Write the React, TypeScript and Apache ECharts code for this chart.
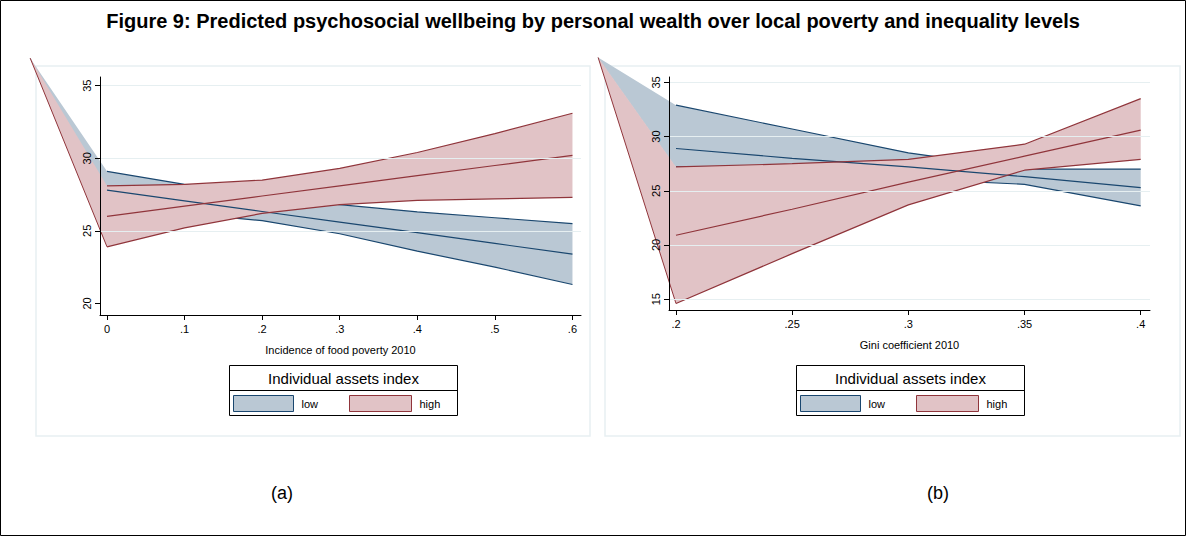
import React, { useEffect, useRef } from 'react';
import * as echarts from 'echarts';

// panel (a): incidence of food poverty
const povertyX = [0, 0.1, 0.2, 0.3, 0.4, 0.5, 0.6];
const povLowMean = [27.8, 27.07, 26.33, 25.6, 24.87, 24.13, 23.4];
const povLowUpper = [29.1, 28.2, 27.4, 26.8, 26.3, 25.9, 25.5];
const povLowLower = [26.6, 26.2, 25.7, 24.8, 23.6, 22.5, 21.3];
const povHighMean = [26.0, 26.7, 27.4, 28.1, 28.8, 29.5, 30.2];
const povHighUpper = [28.1, 28.2, 28.5, 29.3, 30.4, 31.7, 33.1];
const povHighLower = [23.9, 25.2, 26.2, 26.8, 27.1, 27.2, 27.3];
const povCorner: [number, number] = [-0.099, 36.9];

// panel (b): Gini coefficient
const giniX = [0.2, 0.25, 0.3, 0.35, 0.4];
const giniLowMean = [28.9, 28.0, 27.2, 26.3, 25.3];
const giniLowUpper = [32.9, 30.7, 28.5, 27.0, 27.0];
const giniLowLower = [27.2, 27.0, 26.1, 25.6, 23.6];
const giniHighMean = [20.9, 23.3, 25.8, 28.2, 30.6];
const giniHighUpper = [27.2, 27.5, 27.9, 29.3, 33.5];
const giniHighLower = [14.6, 19.2, 23.7, 26.9, 27.9];
const giniCorner: [number, number] = [0.1665, 37.3];

const povTicks = [0, 0.1, 0.2, 0.3, 0.4, 0.5, 0.6];
const povYTicks = [20, 25, 30, 35];
const giniTicks = [0.2, 0.25, 0.3, 0.35, 0.4];
const giniYTicks = [15, 20, 25, 30, 35];

const BLUE = '#1a476f';
const BLUE_FILL = '#bac8d4';
const RED = '#90353b';
const RED_FILL = '#e1c3c6';
const FONT = "'Liberation Sans', Arial, sans-serif";

const fmtX = (v: number) => (v === 0 ? '0' : String(v).replace(/^0/, ''));

function band(idx: number, xs: number[], up: number[], lo: number[], corner: [number, number], fill: string, stroke: string, z: number) {
  return {
    type: 'custom',
    xAxisIndex: idx,
    yAxisIndex: idx,
    clip: false,
    silent: true,
    z,
    data: [0],
    renderItem: (_p: any, api: any) => {
      const c = api.coord(corner);
      const upper = xs.map((x, i) => api.coord([x, up[i]]));
      const lower = xs.map((x, i) => api.coord([x, lo[i]])).reverse();
      return {
        type: 'group',
        children: [
          { type: 'polygon', shape: { points: [c, ...upper, ...lower] }, style: { fill } },
          { type: 'line', shape: { x1: c[0], y1: c[1], x2: lower[lower.length - 1][0], y2: lower[lower.length - 1][1] }, style: { stroke, lineWidth: 1 } },
        ],
      };
    },
  };
}

function gridLines(idx: number, ticks: number[]) {
  return {
    type: 'line',
    xAxisIndex: idx,
    yAxisIndex: idx,
    data: [],
    z: 0,
    silent: true,
    markLine: {
      silent: true,
      symbol: 'none',
      label: { show: false },
      lineStyle: { color: '#e6eff1', type: 'solid', width: 1 },
      data: ticks.map((g) => ({ yAxis: g })),
    },
  };
}

function line(idx: number, xs: number[], ys: number[], color: string, z: number) {
  return {
    type: 'line',
    xAxisIndex: idx,
    yAxisIndex: idx,
    data: xs.map((x, i) => [x, ys[i]]),
    symbol: 'none',
    lineStyle: { color, width: 1.2 },
    z,
    silent: true,
  };
}

function legend(left: number) {
  return {
    type: 'group',
    left,
    top: 365,
    children: [
      { type: 'rect', shape: { x: 0, y: 0, width: 228, height: 50 }, style: { fill: '#fff', stroke: '#000', lineWidth: 1 } },
      { type: 'line', shape: { x1: 0, y1: 25, x2: 228, y2: 25 }, style: { stroke: '#000', lineWidth: 1 } },
      { type: 'text', x: 114, y: 13, style: { text: 'Individual assets index', fontSize: 15, fontFamily: FONT, fill: '#000', align: 'center', verticalAlign: 'middle' } },
      { type: 'rect', shape: { x: 4, y: 30, width: 60, height: 16 }, style: { fill: BLUE_FILL, stroke: BLUE, lineWidth: 1 } },
      { type: 'text', x: 72, y: 38, style: { text: 'low', fontSize: 11, fontFamily: FONT, fill: '#000', verticalAlign: 'middle' } },
      { type: 'rect', shape: { x: 120, y: 30, width: 62, height: 16 }, style: { fill: RED_FILL, stroke: RED, lineWidth: 1 } },
      { type: 'text', x: 190, y: 38, style: { text: 'high', fontSize: 11, fontFamily: FONT, fill: '#000', verticalAlign: 'middle' } },
    ],
  };
}

function xAxis(idx: number, min: number, max: number, ticks: number[], name: string) {
  return {
    type: 'value', gridIndex: idx, min, max, z: 10,
    name, nameLocation: 'middle', nameGap: 29,
    nameTextStyle: { fontSize: 11, fontFamily: FONT, color: '#000' },
    axisLine: { show: true, onZero: false, lineStyle: { color: '#000' } },
    axisTick: { show: true, customValues: ticks, length: 5, lineStyle: { color: '#000' } },
    axisLabel: { customValues: ticks, formatter: fmtX, fontSize: 11, fontFamily: FONT, color: '#000', margin: 8 },
    splitLine: { show: false },
  };
}

function yAxis(idx: number, min: number, max: number, ticks: number[]) {
  return {
    type: 'value', gridIndex: idx, min, max, z: 10,
    axisLine: { show: true, onZero: false, lineStyle: { color: '#000' } },
    axisTick: { show: true, customValues: ticks, length: 5, lineStyle: { color: '#000' } },
    axisLabel: { customValues: ticks, rotate: 90, fontSize: 11, fontFamily: FONT, color: '#000', margin: 8 },
    splitLine: { show: false },
  };
}

const App: React.FC = () => {
  const ref = useRef<HTMLDivElement>(null);

  useEffect(() => {
    if (!ref.current) return;
    const chart = echarts.init(ref.current, null, { renderer: 'svg' });
    chart.setOption({
      animation: false,
      backgroundColor: '#fff',
      grid: [
        { left: 100, top: 77, width: 481, height: 238 },
        { left: 669, top: 77, width: 481, height: 233 },
      ],
      xAxis: [
        xAxis(0, -0.009, 0.611, povTicks, 'Incidence of food poverty 2010'),
        xAxis(1, 0.197, 0.404, giniTicks, 'Gini coefficient 2010'),
      ],
      yAxis: [yAxis(0, 19.2, 35.6, povYTicks), yAxis(1, 14.0, 35.5, giniYTicks)],
      graphic: [
        { type: 'rect', shape: { x: 0.5, y: 0.5, width: 1185, height: 535 }, style: { fill: 'none', stroke: '#000', lineWidth: 1 }, z: -10 },
        { type: 'rect', shape: { x: 36, y: 66, width: 554, height: 370 }, style: { fill: 'none', stroke: '#e8f0f2', lineWidth: 1.5 }, z: -10 },
        { type: 'rect', shape: { x: 605, y: 66, width: 575, height: 370 }, style: { fill: 'none', stroke: '#e8f0f2', lineWidth: 1.5 }, z: -10 },
        { type: 'text', x: 593, y: 21, style: { text: 'Figure 9: Predicted psychosocial wellbeing by personal wealth over local poverty and inequality levels', fontSize: 20, fontWeight: 'bold', fontFamily: FONT, fill: '#000', align: 'center', verticalAlign: 'middle' } },
        { type: 'text', x: 282, y: 493, style: { text: '(a)', fontSize: 18, fontFamily: FONT, fill: '#000', align: 'center', verticalAlign: 'middle' } },
        { type: 'text', x: 938, y: 493, style: { text: '(b)', fontSize: 18, fontFamily: FONT, fill: '#000', align: 'center', verticalAlign: 'middle' } },
        legend(227),
        legend(794),
      ],
      series: [
        gridLines(0, [25, 30, 35]),
        band(0, povertyX, povLowUpper, povLowLower, povCorner, BLUE_FILL, BLUE_FILL, 1),
        line(0, povertyX, povLowUpper, BLUE, 1.5),
        line(0, povertyX, povLowLower, BLUE, 1.5),
        band(0, povertyX, povHighUpper, povHighLower, povCorner, RED_FILL, RED, 2),
        line(0, povertyX, povLowMean, BLUE, 3),
        line(0, povertyX, povHighUpper, RED, 4),
        line(0, povertyX, povHighLower, RED, 4),
        line(0, povertyX, povHighMean, RED, 4),
        gridLines(1, [15, 20, 25, 30, 35]),
        band(1, giniX, giniLowUpper, giniLowLower, giniCorner, BLUE_FILL, BLUE_FILL, 1),
        line(1, giniX, giniLowUpper, BLUE, 1.5),
        line(1, giniX, giniLowLower, BLUE, 1.5),
        band(1, giniX, giniHighUpper, giniHighLower, giniCorner, RED_FILL, RED, 2),
        line(1, giniX, giniLowMean, BLUE, 3),
        line(1, giniX, giniHighUpper, RED, 4),
        line(1, giniX, giniHighLower, RED, 4),
        line(1, giniX, giniHighMean, RED, 4),
      ],
    });
    return () => chart.dispose();
  }, []);

  return <div ref={ref} style={{ position: 'absolute', left: 0, top: 0, width: 1186, height: 536 }} />;
};

export default App;
